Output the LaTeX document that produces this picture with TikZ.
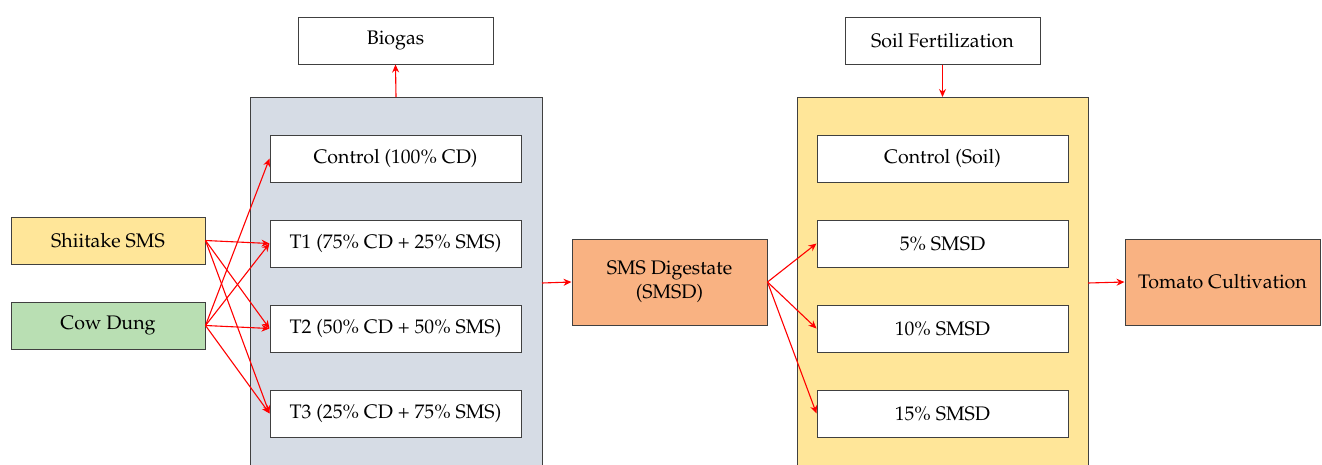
\documentclass[tikz,border=0pt]{standalone}
\usepackage[T1]{fontenc}
\usepackage{mathpazo}
\usetikzlibrary{arrows.meta}
\definecolor{panelgrey}{HTML}{D6DCE5}
\definecolor{paleyellow}{HTML}{FFE699}
\definecolor{palegreen}{HTML}{B9DFB3}
\definecolor{paleorange}{HTML}{F9B282}
\definecolor{edgegrey}{HTML}{404040}
\tikzset{
  box/.style={draw=edgegrey, line width=1pt, fill=white, inner sep=0pt,
    align=center, font=\fontsize{19.6}{24}\selectfont},
  panel/.style={draw=edgegrey, line width=1pt},
  flow/.style={draw=red, line width=1.1pt, -{Stealth[length=8pt,width=7pt]}}
}
\begin{document}
\begin{tikzpicture}[x=1pt,y=-1pt]
\useasboundingbox (0,0) rectangle (1322,464);
\clip (0,0) rectangle (1322,464);
% outer panels (run past the lower edge)
\draw[panel, fill=panelgrey] (250,97) rectangle (542,520);
\draw[panel, fill=paleyellow] (797,97) rectangle (1088,520);
\coordinate (gtop) at (396,97);
\coordinate (gright) at (542,283);
\coordinate (ytop) at (942.5,97);
\coordinate (yright) at (1088,283);
% outputs above the panels
\node[box, minimum width=195pt, minimum height=47pt] (biogas) at (395.5,40.5) {Biogas};
\node[box, minimum width=195pt, minimum height=47pt] (soil) at (942.5,40.5) {Soil Fertilization};
% feedstocks
\node[box, fill=paleyellow, minimum width=194pt, minimum height=47pt] (shii) at (108,240.5) {Shiitake SMS};
\node[box, fill=palegreen, minimum width=194pt, minimum height=47pt] (cow) at (108,325.5) {Cow Dung};
% digestion treatments
\node[box, minimum width=251pt, minimum height=47pt] (c0) at (395.5,158.5) {Control (100\% CD)};
\node[box, minimum width=251pt, minimum height=47pt] (t1) at (395.5,243.5) {T1 (75\% CD + 25\% SMS)};
\node[box, minimum width=251pt, minimum height=47pt] (t2) at (395.5,328.5) {T2 (50\% CD + 50\% SMS)};
\node[box, minimum width=251pt, minimum height=47pt] (t3) at (395.5,413.5) {T3 (25\% CD + 75\% SMS)};
% digestate
\node[box, fill=paleorange, minimum width=195pt, minimum height=86pt] (smsd) at (669.5,282) {SMS Digestate\\(SMSD)};
% fertilization treatments
\node[box, minimum width=251pt, minimum height=47pt] (s0) at (942.5,158.5) {Control (Soil)};
\node[box, minimum width=251pt, minimum height=47pt] (s1) at (942.5,243.5) {5\% SMSD};
\node[box, minimum width=251pt, minimum height=47pt] (s2) at (942.5,328.5) {10\% SMSD};
\node[box, minimum width=251pt, minimum height=47pt] (s3) at (942.5,413.5) {15\% SMSD};
% crop
\node[box, fill=paleorange, minimum width=195pt, minimum height=86pt] (tomato) at (1222.5,282) {Tomato Cultivation};
% connectors
\foreach \t in {t1,t2,t3} \draw[flow] (shii.east) -- (\t.west);
\foreach \t in {c0,t1,t2,t3} \draw[flow] (cow.east) -- (\t.west);
\draw[flow] (gtop) -- (biogas.south);
\draw[flow] (soil.south) -- (ytop);
\draw[flow] (gright) -- (smsd.west);
\foreach \t in {s1,s2,s3} \draw[flow] (smsd.east) -- (\t.west);
\draw[flow] (yright) -- (tomato.west);
\end{tikzpicture}
\end{document}
